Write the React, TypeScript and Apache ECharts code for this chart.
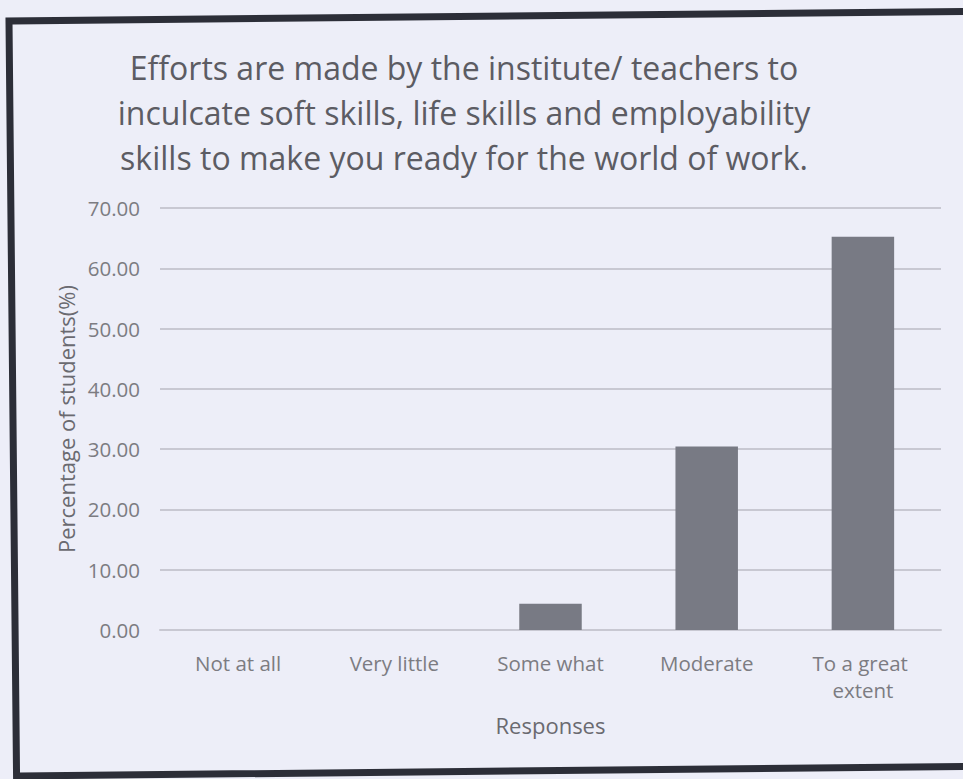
import React, { useEffect, useRef } from "react";
import * as echarts from "echarts";

const categories = ["Not at all", "Very little", "Some what", "Moderate", "To a great extent"];
const values = [0, 0, 4.35, 30.43, 65.22];
const titleLines = [
  "Efforts are made by the institute/ teachers to",
  "inculcate soft skills, life skills and employability",
  "skills to make you ready for the world of work.",
];
const yAxisName = "Percentage of students(%)";
const xAxisName = "Responses";

export default function App() {
  const ref = useRef<HTMLDivElement>(null);
  useEffect(() => {
    document.body.style.margin = "0";
    const chart = echarts.init(ref.current!, null, { renderer: "svg" });
    const font = "'Open Sans', sans-serif";
    chart.setOption({
      animation: false,
      backgroundColor: "#edeef8",
      title: {
        text: titleLines.join("\n"),
        left: 459,
        top: 40,
        textAlign: "center",
        textStyle: {
          fontFamily: font,
          fontSize: 32,
          fontWeight: "normal",
          color: "#5c5c63",
          lineHeight: 45,
        },
      },
      graphic: [
        {
          type: "rect",
          x: 9,
          y: 21,
          rotation: 0.0105,
          shape: { x: 0, y: 0, width: 962, height: 755 },
          style: { fill: "none", stroke: "#2c2e38", lineWidth: 7 },
          silent: true,
        },
      ],
      grid: { left: 160, right: 22, top: 208, bottom: 149 },
      xAxis: {
        type: "category",
        data: categories,
        name: xAxisName,
        nameLocation: "middle",
        nameGap: 84,
        nameTextStyle: { fontFamily: font, fontSize: 22, color: "#6a6a70" },
        axisLine: { show: true, lineStyle: { color: "#c8c8d2", width: 2 } },
        axisTick: { show: false },
        axisLabel: {
          interval: 0,
          margin: 19,
          fontFamily: font,
          fontSize: 20.5,
          color: "#7c7c82",
          width: 120,
          overflow: "break",
          lineHeight: 27,
        },
      },
      yAxis: {
        type: "value",
        min: 0,
        max: 70,
        interval: 10,
        name: yAxisName,
        nameLocation: "middle",
        nameGap: 82,
        nameTextStyle: { fontFamily: font, fontSize: 22, color: "#6a6a70" },
        axisLine: { show: false },
        axisTick: { show: false },
        axisLabel: {
          margin: 20,
          fontFamily: font,
          fontSize: 20.5,
          color: "#7c7c82",
          formatter: (v: number) => v.toFixed(2),
        },
        splitLine: { lineStyle: { color: "#c8c8d2", width: 2 } },
      },
      series: [
        {
          type: "bar",
          data: values,
          barCategoryGap: "60%",
          itemStyle: { color: "#787a84" },
        },
      ],
    });
    return () => chart.dispose();
  }, []);
  return <div ref={ref} style={{ width: 963, height: 779 }} />;
}
